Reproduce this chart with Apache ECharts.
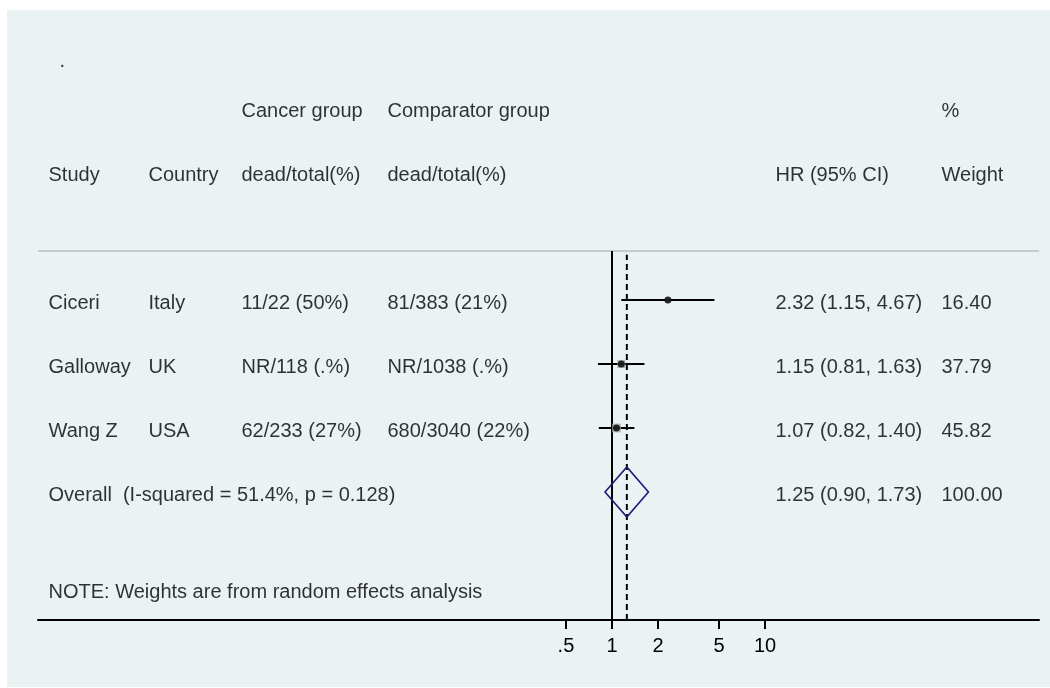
<!DOCTYPE html>
<html><head><meta charset="utf-8">
<script src="https://cdn.jsdelivr.net/npm/echarts@6/dist/echarts.min.js"></script>
<style>
html,body{margin:0;padding:0;background:#ffffff;}
#panel{position:absolute;left:7px;top:10px;width:1043px;height:677px;background:#EAF2F3;}
#chart{width:1043px;height:677px;}
</style></head><body><div id="panel"><div id="chart"></div></div>
<script>
// ---- data ----
const studies = ['Ciceri', 'Galloway', 'Wang Z'];
const countries = ['Italy', 'UK', 'USA'];
const cancerGroup = ['11/22 (50%)', 'NR/118 (.%)', '62/233 (27%)'];
const comparatorGroup = ['81/383 (21%)', 'NR/1038 (.%)', '680/3040 (22%)'];
const hr = [2.32, 1.15, 1.07];
const hrLow = [1.15, 0.81, 0.82];
const hrHigh = [4.67, 1.63, 1.40];
const weights = [16.40, 37.79, 45.82];
const overallHR = 1.25;
const overallLow = 0.90;
const overallHigh = 1.73;
const overallWeight = 100.00;
const overallLabel = 'Overall  (I-squared = 51.4%, p = 0.128)';
const noteText = 'NOTE: Weights are from random effects analysis';
const headerTop = ['', '', 'Cancer group', 'Comparator group', '', '%'];
const headerBottom = ['Study', 'Country', 'dead/total(%)', 'dead/total(%)', 'HR (95% CI)', 'Weight'];
const titleText = '.';
const xTicks = [0.5, 1, 2, 5, 10];

// ---- layout (positions only) ----
const colX = [48, 148, 241, 387, 775, 941];   // text column left edges (page x)
const studyY = [5, 4, 3];
const overallY = 2;
const noteY = 0.48;
const sepY = 5.766;
const headTopY = 8;
const headBotY = 7;
const textShift = 0.047;                       // small downward nudge of text baselines
const xMin = Math.pow(10, -3.752);
const xMax = Math.pow(10, 2.791);
const FONT = 'Liberation Sans, Arial, sans-serif';

const fmt2 = v => v.toFixed(2);
const ciText = (e, l, h) => fmt2(e) + ' (' + fmt2(l) + ', ' + fmt2(h) + ')';

// text points
const texts = [];
function addText(x, y, s) { if (s !== '') texts.push({ value: [x, y - textShift], name: s }); }
addText(59, 8.78, titleText);
headerTop.forEach((s, i) => addText(colX[i], headTopY, s));
headerBottom.forEach((s, i) => addText(colX[i], headBotY, s));
studies.forEach((s, i) => {
  addText(colX[0], studyY[i], s);
  addText(colX[1], studyY[i], countries[i]);
  addText(colX[2], studyY[i], cancerGroup[i]);
  addText(colX[3], studyY[i], comparatorGroup[i]);
  addText(colX[4], studyY[i], ciText(hr[i], hrLow[i], hrHigh[i]));
  addText(colX[5], studyY[i], fmt2(weights[i]));
});
addText(colX[0], overallY, overallLabel);
addText(colX[4], overallY, ciText(overallHR, overallLow, overallHigh));
addText(colX[5], overallY, fmt2(overallWeight));
addText(colX[0], noteY, noteText);

const ciData = studies.map((s, i) => [hrLow[i], hrHigh[i], studyY[i], hr[i]]);
const ptData = studies.map((s, i) => [hr[i], studyY[i]]);
const boxData = studies.map((s, i) => ({ value: [hr[i], studyY[i]], symbolSize: 8 * Math.sqrt(weights[i] / 37.79) }));

const chart = echarts.init(document.getElementById('chart'), null, { renderer: 'canvas' });
chart.setOption({
  animation: false,
  backgroundColor: 'transparent',
  textStyle: { fontFamily: FONT },
  grid: { left: 31, right: 11, top: 34, bottom: 67, containLabel: false },
  xAxis: [
    {
      type: 'log', logBase: 10, min: xMin, max: xMax,
      axisLine: { show: true, lineStyle: { color: '#000', width: 2 } },
      axisTick: { show: true, customValues: xTicks, length: 9, inside: false, lineStyle: { color: '#000', width: 2 } },
      axisLabel: {
        show: true, customValues: xTicks, margin: 16, fontSize: 20, color: '#000', fontFamily: FONT,
        formatter: v => (v < 1 ? String(v).replace(/^0/, '') : String(v))
      },
      splitLine: { show: false }, minorTick: { show: false }, minorSplitLine: { show: false }
    },
    { type: 'value', min: 38, max: 1039, show: false }
  ],
  yAxis: { type: 'value', min: 0, max: 9, show: false },
  series: [
    { // separator
      type: 'line', xAxisIndex: 0, data: [[xMin, sepY], [xMax, sepY]], symbol: 'none',
      lineStyle: { color: '#BEBEBE', width: 1.5 }, silent: true, z: 1
    },
    { // null line
      type: 'line', xAxisIndex: 0, data: [[1, 0], [1, sepY]], symbol: 'none',
      lineStyle: { color: '#000', width: 2 }, silent: true, z: 2
    },
    { // overall effect line
      type: 'line', xAxisIndex: 0, data: [[overallHR, 0], [overallHR, sepY - 0.06]], symbol: 'none',
      lineStyle: { color: '#000', width: 2, type: [6, 4] }, silent: true, z: 2
    },
    { // weight boxes
      type: 'scatter', xAxisIndex: 0, data: boxData, symbol: 'rect',
      itemStyle: { color: '#A8A8A8' }, silent: true, z: 3
    },
    { // CIs
      type: 'custom', xAxisIndex: 0, data: ciData, silent: true, z: 3,
      encode: { x: [0, 1], y: 2 },
      renderItem: (params, api) => {
        const p1 = api.coord([api.value(0), api.value(2)]);
        const p2 = api.coord([api.value(1), api.value(2)]);
        return { type: 'line', shape: { x1: p1[0], y1: p1[1], x2: p2[0], y2: p2[1] },
                 style: { stroke: '#000', lineWidth: 2 } };
      }
    },
    { // point estimates
      type: 'scatter', xAxisIndex: 0, data: ptData, symbol: 'circle', symbolSize: 7,
      itemStyle: { color: '#000' }, silent: true, z: 4
    },
    { // overall diamond
      type: 'custom', xAxisIndex: 0, data: [[overallLow, overallHR, overallHigh, overallY]], silent: true, z: 4,
      encode: { x: [0, 2], y: 3 },
      renderItem: (params, api) => {
        const y = api.value(3), h = 0.39;
        const pts = [
          api.coord([api.value(0), y]), api.coord([api.value(1), y + h]),
          api.coord([api.value(2), y]), api.coord([api.value(1), y - h])
        ];
        return { type: 'polygon', shape: { points: pts },
                 style: { fill: 'none', stroke: '#1C1C78', lineWidth: 1.6 } };
      }
    },
    { // text table
      type: 'scatter', xAxisIndex: 1, data: texts, symbolSize: 1,
      itemStyle: { color: 'rgba(0,0,0,0)' }, silent: true, z: 5,
      label: {
        show: true, position: 'right', distance: 0, formatter: p => p.name,
        fontSize: 20, color: '#000', fontFamily: FONT
      },
      labelLayout: { hideOverlap: false }
    }
  ]
});
</script></body></html>
